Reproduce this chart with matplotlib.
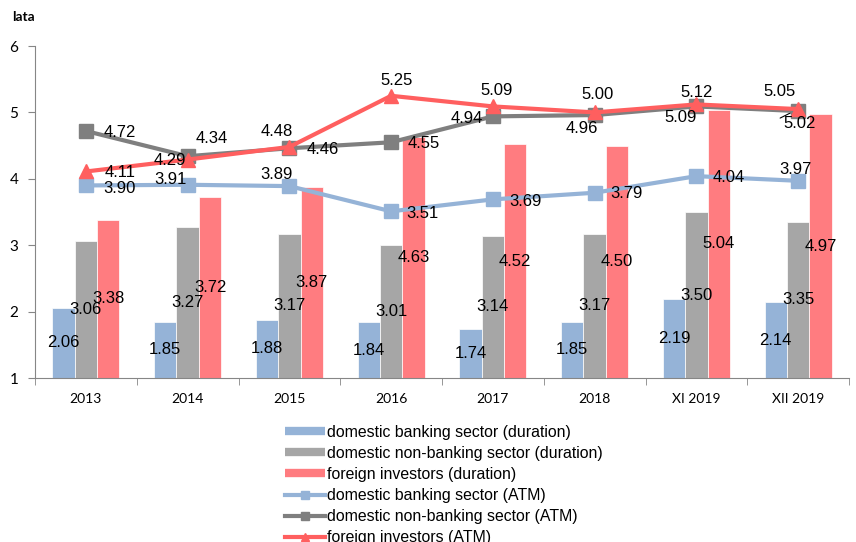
import matplotlib.pyplot as plt
from matplotlib.lines import Line2D
import numpy as np

plt.rcParams['font.family'] = ['Liberation Sans', 'DejaVu Sans']

categories = ['2013', '2014', '2015', '2016', '2017', '2018', 'XI 2019', 'XII 2019']

# duration (bars)
dur_bank = [2.06, 1.85, 1.88, 1.84, 1.74, 1.85, 2.19, 2.14]
dur_nonbank = [3.06, 3.27, 3.17, 3.01, 3.14, 3.17, 3.50, 3.35]
dur_foreign = [3.38, 3.72, 3.87, 4.63, 4.52, 4.50, 5.04, 4.97]

# average time to maturity (lines)
atm_bank = [3.90, 3.91, 3.89, 3.51, 3.69, 3.79, 4.04, 3.97]
atm_nonbank = [4.72, 4.34, 4.46, 4.55, 4.94, 4.96, 5.09, 5.02]
atm_foreign = [4.11, 4.29, 4.48, 5.25, 5.09, 5.00, 5.12, 5.05]

c_blue = '#95B3D7'
c_gray_bar = '#A6A6A6'
c_red_bar = '#FF7C80'
c_gray_line = '#7F7F7F'
c_red_line = '#FF5F5F'

fig = plt.figure(figsize=(8.56, 5.42), dpi=100)
ax = fig.add_axes([35 / 856, 1 - 378 / 542, 814 / 856, 332 / 542])

x = np.arange(len(categories))
w = 0.22
ax.bar(x - w, dur_bank, w, color=c_blue, edgecolor='white', linewidth=0.5, zorder=2)
ax.bar(x, dur_nonbank, w, color=c_gray_bar, edgecolor='white', linewidth=0.5, zorder=2)
ax.bar(x + w, dur_foreign, w, color=c_red_bar, edgecolor='white', linewidth=0.5, zorder=2)

ax.plot(x, atm_bank, color=c_blue, lw=3, marker='s', ms=10, zorder=3)
ax.plot(x, atm_nonbank, color=c_gray_line, lw=3, marker='s', ms=10, zorder=4)
ax.plot(x, atm_foreign, color=c_red_line, lw=3, marker='^', ms=10, zorder=5)

fs = 12
# bar labels sit in the middle of each bar
for off, vals in ((-w, dur_bank), (0, dur_nonbank), (w, dur_foreign)):
    for xi, v in zip(x, vals):
        ax.text(xi + off, (1 + v) / 2, f'{v:.2f}', ha='center', va='center', fontsize=fs, zorder=6)

# label offsets in pixels (dx right, dy down)
off_bank = [(34, 3), (-17, -5), (-13, -12), (31, 2), (33, 2), (32, 1), (32, 1), (-3, -11)]
off_nonbank = [(34, 2), (24, -18), (33, 1), (33, 1), (-26, 2), (-13, 13), (-16, 11), (1, 12)]
off_foreign = [(34, 1), (-18, 1), (-13, -15), (5, -15), (4, -16), (3, -18), (0, -12), (-19, -18)]

for vals, offs in ((atm_bank, off_bank), (atm_nonbank, off_nonbank), (atm_foreign, off_foreign)):
    for xi, v, (dx, dy) in zip(x, vals, offs):
        ax.annotate(f'{v:.2f}', (xi, v), xytext=(dx, -dy), textcoords='offset pixels',
                    ha='center', va='center', fontsize=fs, zorder=7)

# leader lines for the crowded labels
ax.annotate('', (5, atm_foreign[5]), xytext=(1, -8), textcoords='offset pixels',
            arrowprops=dict(arrowstyle='-', color='black', lw=0.8, shrinkA=0, shrinkB=2))
ax.annotate('', (7, atm_foreign[7]), xytext=(-18, -9), textcoords='offset pixels',
            arrowprops=dict(arrowstyle='-', color='black', lw=0.8, shrinkA=0, shrinkB=3))

ax.set_xlim(-0.5, 7.5)
ax.set_ylim(1, 6)
ax.set_yticks([1, 2, 3, 4, 5, 6])
ax.set_xticks(x)
ax.set_xticklabels(categories, fontsize=10, family='Lato')
ax.set_xticks(np.arange(-0.5, 8, 1), minor=True)
ax.tick_params(axis='x', which='major', length=0, pad=11)
ax.tick_params(axis='x', which='minor', length=5, direction='out', color='#868686')
ax.tick_params(axis='y', labelsize=11, length=5, color='#868686', pad=7)
for lbl in ax.get_yticklabels():
    lbl.set_family('Lato')
for s in ('top', 'right'):
    ax.spines[s].set_visible(False)
for s in ('left', 'bottom'):
    ax.spines[s].set_color('#868686')

fig.text(12 / 856, 1 - 17 / 542, 'lata', fontsize=10, fontweight='bold', family='Lato', va='center')

handles = [
    Line2D([], [], color=c_blue, lw=6, solid_capstyle='butt'),
    Line2D([], [], color=c_gray_bar, lw=6, solid_capstyle='butt'),
    Line2D([], [], color=c_red_bar, lw=6, solid_capstyle='butt'),
    Line2D([], [], color=c_blue, lw=3, marker='s', ms=6),
    Line2D([], [], color=c_gray_line, lw=3, marker='s', ms=6),
    Line2D([], [], color=c_red_line, lw=3, marker='^', ms=6),
]
labels = [
    'domestic banking sector (duration)',
    'domestic non-banking sector (duration)',
    'foreign investors (duration)',
    'domestic banking sector (ATM)',
    'domestic non-banking sector (ATM)',
    'foreign investors (ATM)',
]
fig.legend(handles, labels, loc='upper left', bbox_to_anchor=(285 / 856, 1 - 425 / 542),
           frameon=False, fontsize=11.4, handlelength=2.5, handletextpad=0.15,
           labelspacing=0.38, borderpad=0, borderaxespad=0)

fig.savefig('out.png', dpi=100)
